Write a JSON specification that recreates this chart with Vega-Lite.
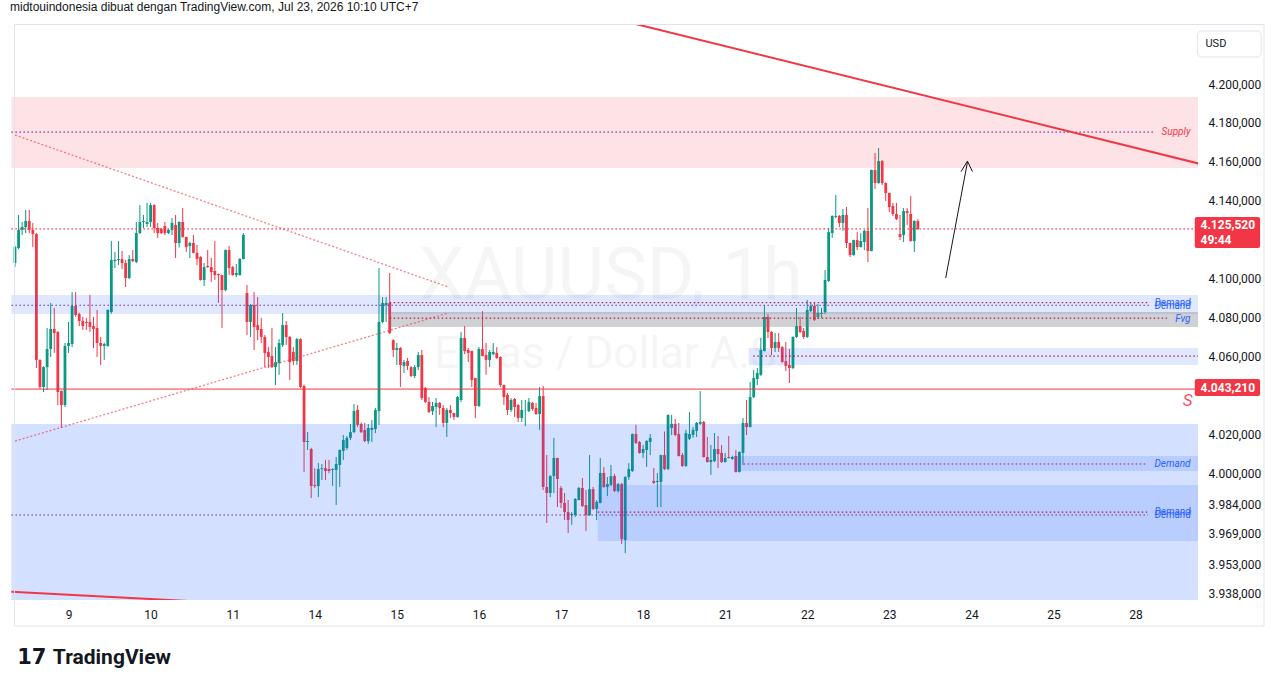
{
"$schema":"https://vega.github.io/schema/vega-lite/v6.json",
"width":1188,"height":575,
"autosize":{"type":"none"},
"padding":{"left":10,"top":25,"right":83,"bottom":88},
"background":"#ffffff",
"config":{"view":{"stroke":null},"font":"Roboto","locale":{"number":{"decimal":",","thousands":".","grouping":[3],"currency":["",""]}}},
"title":{"text":"midtouindonesia dibuat dengan TradingView.com, Jul 23, 2026 10:10 UTC+7","anchor":"start","frame":"group","fontSize":12,"fontWeight":"normal","font":"Liberation Sans","color":"#131722","offset":-2,"baseline":"bottom"},
"datasets":{
"candles":[
{"i":1,"o":4108.0,"h":4117.0,"l":4106.0,"c":4116.2},
{"i":2,"o":4115.7,"h":4132.7,"l":4115.0,"c":4125.0},
{"i":3,"o":4125.0,"h":4129.1,"l":4122.4,"c":4126.5},
{"i":4,"o":4126.5,"h":4135.3,"l":4123.4,"c":4129.6},
{"i":5,"o":4129.6,"h":4135.3,"l":4123.4,"c":4125.0},
{"i":6,"o":4125.0,"h":4128.6,"l":4116.2,"c":4122.9},
{"i":7,"o":4122.9,"h":4123.5,"l":4054.0,"c":4058.2},
{"i":8,"o":4058.2,"h":4058.5,"l":4043.3,"c":4044.3},
{"i":9,"o":4044.3,"h":4055.0,"l":4041.7,"c":4054.5},
{"i":10,"o":4054.5,"h":4074.6,"l":4042.7,"c":4063.8},
{"i":11,"o":4063.8,"h":4087.5,"l":4059.7,"c":4074.1},
{"i":12,"o":4074.1,"h":4084.9,"l":4061.8,"c":4072.0},
{"i":13,"o":4072.6,"h":4073.0,"l":4035.0,"c":4041.7},
{"i":14,"o":4042.2,"h":4042.5,"l":4023.2,"c":4035.0},
{"i":15,"o":4035.0,"h":4066.9,"l":4034.0,"c":4065.4},
{"i":16,"o":4065.4,"h":4077.7,"l":4061.8,"c":4066.9},
{"i":17,"o":4066.4,"h":4093.1,"l":4064.8,"c":4085.9},
{"i":18,"o":4085.9,"h":4093.1,"l":4080.3,"c":4081.3},
{"i":19,"o":4081.8,"h":4082.5,"l":4075.6,"c":4078.2},
{"i":20,"o":4078.2,"h":4080.3,"l":4073.6,"c":4075.6},
{"i":21,"o":4077.7,"h":4079.8,"l":4073.6,"c":4077.2},
{"i":22,"o":4077.7,"h":4091.6,"l":4072.6,"c":4075.1},
{"i":23,"o":4075.6,"h":4080.3,"l":4064.3,"c":4074.1},
{"i":24,"o":4074.6,"h":4083.9,"l":4059.7,"c":4066.9},
{"i":25,"o":4066.9,"h":4070.0,"l":4055.6,"c":4065.4},
{"i":26,"o":4065.4,"h":4067.0,"l":4058.2,"c":4066.4},
{"i":27,"o":4065.4,"h":4084.2,"l":4065.0,"c":4083.9},
{"i":28,"o":4082.8,"h":4119.3,"l":4082.0,"c":4109.6},
{"i":29,"o":4109.0,"h":4113.7,"l":4105.4,"c":4109.6},
{"i":30,"o":4109.6,"h":4119.3,"l":4107.0,"c":4110.1},
{"i":31,"o":4110.1,"h":4114.2,"l":4104.9,"c":4108.0},
{"i":32,"o":4108.0,"h":4109.6,"l":4095.7,"c":4100.3},
{"i":33,"o":4100.3,"h":4112.1,"l":4099.8,"c":4110.1},
{"i":34,"o":4110.1,"h":4114.7,"l":4108.5,"c":4109.0},
{"i":35,"o":4108.5,"h":4129.1,"l":4108.0,"c":4123.4},
{"i":36,"o":4123.4,"h":4137.8,"l":4122.9,"c":4129.1},
{"i":37,"o":4129.1,"h":4132.7,"l":4126.0,"c":4129.6},
{"i":38,"o":4128.1,"h":4138.9,"l":4126.5,"c":4129.1},
{"i":39,"o":4129.1,"h":4138.9,"l":4126.5,"c":4137.8},
{"i":40,"o":4137.8,"h":4138.2,"l":4123.4,"c":4126.0},
{"i":41,"o":4126.0,"h":4128.6,"l":4120.9,"c":4123.4},
{"i":42,"o":4125.5,"h":4126.0,"l":4123.0,"c":4123.4},
{"i":43,"o":4127.0,"h":4129.1,"l":4122.4,"c":4123.4},
{"i":44,"o":4123.4,"h":4125.5,"l":4122.9,"c":4125.0},
{"i":45,"o":4125.0,"h":4131.1,"l":4122.4,"c":4128.6},
{"i":46,"o":4127.6,"h":4132.7,"l":4110.6,"c":4118.3},
{"i":47,"o":4118.3,"h":4129.5,"l":4116.0,"c":4129.1},
{"i":48,"o":4129.1,"h":4136.3,"l":4121.0,"c":4121.4},
{"i":49,"o":4121.4,"h":4121.5,"l":4113.7,"c":4116.2},
{"i":50,"o":4116.8,"h":4119.0,"l":4110.6,"c":4118.3},
{"i":51,"o":4118.3,"h":4122.4,"l":4113.0,"c":4113.2},
{"i":52,"o":4113.2,"h":4117.3,"l":4107.0,"c":4110.1},
{"i":53,"o":4111.1,"h":4111.5,"l":4099.0,"c":4099.3},
{"i":54,"o":4099.3,"h":4108.0,"l":4096.2,"c":4105.9},
{"i":55,"o":4106.5,"h":4114.7,"l":4105.5,"c":4105.9},
{"i":56,"o":4105.9,"h":4110.6,"l":4098.3,"c":4103.4},
{"i":57,"o":4103.9,"h":4119.3,"l":4099.3,"c":4101.8},
{"i":58,"o":4102.4,"h":4102.5,"l":4087.5,"c":4101.8},
{"i":59,"o":4101.8,"h":4102.0,"l":4074.6,"c":4094.1},
{"i":60,"o":4094.1,"h":4115.0,"l":4093.5,"c":4114.7},
{"i":61,"o":4114.7,"h":4116.8,"l":4101.8,"c":4105.4},
{"i":62,"o":4105.9,"h":4106.5,"l":4101.5,"c":4101.8},
{"i":63,"o":4101.8,"h":4107.5,"l":4100.8,"c":4102.9},
{"i":64,"o":4101.8,"h":4110.5,"l":4101.5,"c":4110.1},
{"i":65,"o":4110.1,"h":4123.4,"l":4109.8,"c":4122.4},
{"i":66,"o":4092.6,"h":4096.7,"l":4071.0,"c":4077.7},
{"i":67,"o":4077.7,"h":4087.0,"l":4070.0,"c":4086.4},
{"i":68,"o":4086.4,"h":4093.1,"l":4063.3,"c":4075.1},
{"i":69,"o":4076.1,"h":4090.5,"l":4068.4,"c":4073.6},
{"i":70,"o":4074.1,"h":4079.8,"l":4066.9,"c":4070.0},
{"i":71,"o":4070.0,"h":4071.0,"l":4054.5,"c":4061.8},
{"i":72,"o":4062.3,"h":4064.8,"l":4054.0,"c":4059.7},
{"i":73,"o":4060.2,"h":4074.6,"l":4054.0,"c":4054.5},
{"i":74,"o":4054.5,"h":4064.8,"l":4045.3,"c":4057.1},
{"i":75,"o":4056.6,"h":4068.9,"l":4050.5,"c":4066.9},
{"i":76,"o":4065.9,"h":4082.3,"l":4064.8,"c":4076.1},
{"i":77,"o":4076.1,"h":4078.2,"l":4065.9,"c":4070.0},
{"i":78,"o":4070.0,"h":4070.5,"l":4047.9,"c":4057.1},
{"i":79,"o":4062.3,"h":4064.8,"l":4055.6,"c":4057.6},
{"i":80,"o":4057.6,"h":4069.5,"l":4055.6,"c":4068.9},
{"i":81,"o":4068.9,"h":4069.3,"l":4043.8,"c":4044.3},
{"i":82,"o":4044.8,"h":4045.5,"l":4000.6,"c":4016.0},
{"i":83,"o":4016.0,"h":4021.1,"l":4011.9,"c":4016.5},
{"i":84,"o":4012.4,"h":4013.0,"l":3987.2,"c":3993.4},
{"i":85,"o":3993.9,"h":4002.6,"l":3992.4,"c":3993.4},
{"i":86,"o":3993.4,"h":4005.2,"l":3987.7,"c":4002.1},
{"i":87,"o":4002.1,"h":4004.7,"l":3996.5,"c":4002.6},
{"i":88,"o":4002.6,"h":4006.8,"l":3996.5,"c":4001.1},
{"i":89,"o":4002.1,"h":4006.8,"l":4000.0,"c":4001.1},
{"i":90,"o":4001.6,"h":4002.5,"l":3993.4,"c":4002.1},
{"i":91,"o":4001.6,"h":4008.3,"l":3983.6,"c":4004.7},
{"i":92,"o":4004.2,"h":4012.2,"l":3992.9,"c":4011.9},
{"i":93,"o":4011.4,"h":4019.6,"l":4006.8,"c":4017.0},
{"i":94,"o":4012.9,"h":4019.1,"l":4011.9,"c":4018.1},
{"i":95,"o":4018.1,"h":4025.3,"l":4017.0,"c":4021.1},
{"i":96,"o":4021.1,"h":4035.5,"l":4020.6,"c":4031.9},
{"i":97,"o":4032.5,"h":4035.0,"l":4023.7,"c":4024.8},
{"i":98,"o":4025.3,"h":4026.0,"l":4020.6,"c":4021.1},
{"i":99,"o":4022.2,"h":4025.8,"l":4016.0,"c":4016.5},
{"i":100,"o":4016.5,"h":4025.3,"l":4015.0,"c":4023.2},
{"i":101,"o":4022.2,"h":4027.3,"l":4016.0,"c":4023.2},
{"i":102,"o":4022.7,"h":4033.5,"l":4020.6,"c":4032.5},
{"i":103,"o":4031.9,"h":4105.4,"l":4024.8,"c":4077.7},
{"i":104,"o":4077.7,"h":4090.5,"l":4077.0,"c":4087.5},
{"i":105,"o":4086.4,"h":4090.5,"l":4077.7,"c":4087.5},
{"i":106,"o":4087.5,"h":4102.9,"l":4071.5,"c":4072.0},
{"i":107,"o":4068.4,"h":4068.8,"l":4059.7,"c":4063.3},
{"i":108,"o":4063.3,"h":4066.9,"l":4055.6,"c":4064.3},
{"i":109,"o":4064.3,"h":4064.8,"l":4044.3,"c":4055.6},
{"i":110,"o":4055.1,"h":4058.2,"l":4051.5,"c":4057.1},
{"i":111,"o":4057.6,"h":4059.2,"l":4053.0,"c":4055.1},
{"i":112,"o":4054.5,"h":4055.0,"l":4049.4,"c":4049.9},
{"i":113,"o":4049.9,"h":4055.6,"l":4048.9,"c":4054.5},
{"i":114,"o":4054.5,"h":4062.3,"l":4053.0,"c":4060.7},
{"i":115,"o":4060.7,"h":4063.3,"l":4037.6,"c":4038.6},
{"i":116,"o":4043.8,"h":4044.3,"l":4036.1,"c":4036.6},
{"i":117,"o":4036.6,"h":4039.1,"l":4030.9,"c":4031.4},
{"i":118,"o":4031.9,"h":4036.6,"l":4029.9,"c":4034.5},
{"i":119,"o":4034.0,"h":4038.6,"l":4023.7,"c":4036.1},
{"i":120,"o":4036.1,"h":4036.6,"l":4029.9,"c":4033.5},
{"i":121,"o":4033.5,"h":4035.0,"l":4023.7,"c":4025.8},
{"i":122,"o":4025.8,"h":4033.5,"l":4018.6,"c":4032.5},
{"i":123,"o":4032.5,"h":4035.0,"l":4028.3,"c":4030.9},
{"i":124,"o":4030.9,"h":4031.0,"l":4027.3,"c":4028.9},
{"i":125,"o":4028.9,"h":4039.6,"l":4028.5,"c":4039.1},
{"i":126,"o":4037.6,"h":4072.6,"l":4036.6,"c":4069.5},
{"i":127,"o":4069.5,"h":4075.6,"l":4061.2,"c":4062.8},
{"i":128,"o":4063.3,"h":4064.3,"l":4057.1,"c":4061.8},
{"i":129,"o":4062.8,"h":4063.0,"l":4044.3,"c":4047.9},
{"i":130,"o":4048.9,"h":4049.0,"l":4028.3,"c":4034.5},
{"i":131,"o":4034.5,"h":4064.8,"l":4034.0,"c":4063.8},
{"i":132,"o":4063.8,"h":4083.3,"l":4060.0,"c":4060.2},
{"i":133,"o":4060.7,"h":4066.9,"l":4050.5,"c":4058.2},
{"i":134,"o":4058.2,"h":4063.3,"l":4054.5,"c":4062.3},
{"i":135,"o":4061.2,"h":4066.9,"l":4060.7,"c":4062.3},
{"i":136,"o":4061.8,"h":4064.8,"l":4058.7,"c":4059.2},
{"i":137,"o":4059.7,"h":4060.0,"l":4044.3,"c":4045.3},
{"i":138,"o":4045.3,"h":4045.5,"l":4035.0,"c":4039.1},
{"i":139,"o":4040.2,"h":4041.2,"l":4029.9,"c":4032.5},
{"i":140,"o":4032.5,"h":4038.6,"l":4031.4,"c":4037.6},
{"i":141,"o":4038.1,"h":4038.6,"l":4028.9,"c":4034.0},
{"i":142,"o":4035.0,"h":4035.5,"l":4026.3,"c":4028.3},
{"i":143,"o":4028.3,"h":4037.6,"l":4026.3,"c":4032.5},
{"i":144,"o":4031.9,"h":4037.6,"l":4024.2,"c":4032.0},
{"i":145,"o":4031.9,"h":4038.6,"l":4031.4,"c":4036.6},
{"i":146,"o":4036.1,"h":4036.5,"l":4032.0,"c":4033.0},
{"i":147,"o":4033.5,"h":4036.1,"l":4029.9,"c":4030.4},
{"i":148,"o":4030.4,"h":4044.3,"l":4022.2,"c":4039.6},
{"i":149,"o":4039.6,"h":4044.8,"l":3991.3,"c":3992.9},
{"i":150,"o":3992.9,"h":4009.3,"l":3974.4,"c":3989.8},
{"i":151,"o":3989.8,"h":3999.0,"l":3987.7,"c":3998.5},
{"i":152,"o":3998.5,"h":4018.1,"l":3989.8,"c":4007.8},
{"i":153,"o":4007.8,"h":4008.0,"l":3982.6,"c":3997.0},
{"i":154,"o":3992.4,"h":3993.4,"l":3982.1,"c":3984.7},
{"i":155,"o":3984.7,"h":3989.8,"l":3975.9,"c":3980.0},
{"i":156,"o":3980.0,"h":3986.2,"l":3969.2,"c":3975.9},
{"i":157,"o":3978.5,"h":3980.0,"l":3973.4,"c":3979.0},
{"i":158,"o":3978.5,"h":3987.2,"l":3977.5,"c":3986.7},
{"i":159,"o":3986.2,"h":3992.9,"l":3986.0,"c":3992.4},
{"i":160,"o":3992.4,"h":3997.5,"l":3982.6,"c":3983.1},
{"i":161,"o":3983.6,"h":3991.3,"l":3970.3,"c":3978.5},
{"i":162,"o":3978.5,"h":4009.3,"l":3978.0,"c":3991.8},
{"i":163,"o":3991.8,"h":3992.9,"l":3981.0,"c":3981.6},
{"i":164,"o":3981.6,"h":3986.2,"l":3975.9,"c":3985.2},
{"i":165,"o":3984.7,"h":4007.8,"l":3984.5,"c":4000.1},
{"i":166,"o":4000.1,"h":4003.2,"l":3992.5,"c":3992.9},
{"i":167,"o":3992.9,"h":3998.0,"l":3988.2,"c":3994.4},
{"i":168,"o":3993.9,"h":4004.2,"l":3993.4,"c":3998.5},
{"i":169,"o":3998.5,"h":3999.6,"l":3990.3,"c":3990.8},
{"i":170,"o":3990.8,"h":3995.0,"l":3990.0,"c":3994.4},
{"i":171,"o":3994.4,"h":3995.0,"l":3963.6,"c":3966.1},
{"i":172,"o":3965.6,"h":3998.5,"l":3958.9,"c":3998.0},
{"i":173,"o":3998.0,"h":4005.2,"l":3996.5,"c":4002.1},
{"i":174,"o":4001.1,"h":4020.4,"l":4000.6,"c":4020.1},
{"i":175,"o":4020.1,"h":4024.8,"l":4015.0,"c":4015.5},
{"i":176,"o":4016.0,"h":4016.5,"l":4010.0,"c":4010.4},
{"i":177,"o":4010.4,"h":4014.5,"l":4007.8,"c":4012.4},
{"i":178,"o":4011.9,"h":4017.0,"l":4003.2,"c":4016.5},
{"i":179,"o":4016.0,"h":4020.1,"l":4009.3,"c":4018.1},
{"i":180,"o":3996.0,"h":4002.6,"l":3994.4,"c":3995.0},
{"i":181,"o":3995.5,"h":4000.1,"l":3982.6,"c":3996.0},
{"i":182,"o":3995.5,"h":4009.5,"l":3982.6,"c":4009.3},
{"i":183,"o":4009.3,"h":4021.4,"l":4001.5,"c":4002.1},
{"i":184,"o":4002.1,"h":4030.2,"l":4001.5,"c":4029.9},
{"i":185,"o":4023.2,"h":4029.9,"l":4019.6,"c":4025.3},
{"i":186,"o":4025.3,"h":4027.8,"l":4019.0,"c":4019.6},
{"i":187,"o":4020.1,"h":4025.8,"l":4008.5,"c":4008.8},
{"i":188,"o":4009.3,"h":4010.4,"l":4003.2,"c":4003.7},
{"i":189,"o":4003.7,"h":4022.2,"l":4003.2,"c":4020.6},
{"i":190,"o":4017.6,"h":4031.4,"l":4017.0,"c":4020.1},
{"i":191,"o":4019.6,"h":4023.7,"l":4018.1,"c":4022.2},
{"i":192,"o":4021.7,"h":4026.3,"l":4018.6,"c":4025.8},
{"i":193,"o":4025.3,"h":4042.2,"l":4024.8,"c":4026.3},
{"i":194,"o":4026.3,"h":4026.8,"l":4008.0,"c":4008.3},
{"i":195,"o":4008.3,"h":4018.6,"l":4005.5,"c":4005.7},
{"i":196,"o":4005.7,"h":4014.5,"l":3999.1,"c":4006.8},
{"i":197,"o":4006.2,"h":4020.6,"l":4005.7,"c":4012.4},
{"i":198,"o":4012.4,"h":4019.1,"l":4002.6,"c":4009.8},
{"i":199,"o":4010.4,"h":4014.5,"l":4005.2,"c":4005.7},
{"i":200,"o":4005.7,"h":4010.4,"l":4005.5,"c":4007.8},
{"i":201,"o":4008.3,"h":4019.1,"l":4007.5,"c":4007.8},
{"i":202,"o":4007.3,"h":4009.0,"l":4006.8,"c":4008.3},
{"i":203,"o":4008.8,"h":4011.9,"l":4000.3,"c":4000.6},
{"i":204,"o":4000.6,"h":4011.2,"l":4000.3,"c":4010.9},
{"i":205,"o":4010.4,"h":4028.3,"l":4004.2,"c":4025.8},
{"i":206,"o":4025.8,"h":4037.6,"l":4019.6,"c":4023.7},
{"i":207,"o":4023.7,"h":4046.9,"l":4023.5,"c":4039.1},
{"i":208,"o":4039.1,"h":4053.0,"l":4038.6,"c":4048.9},
{"i":209,"o":4048.4,"h":4054.0,"l":4045.3,"c":4051.5},
{"i":210,"o":4050.5,"h":4069.5,"l":4050.0,"c":4063.3},
{"i":211,"o":4062.8,"h":4086.4,"l":4062.5,"c":4080.3},
{"i":212,"o":4080.3,"h":4081.8,"l":4069.5,"c":4072.6},
{"i":213,"o":4072.6,"h":4073.0,"l":4060.7,"c":4064.3},
{"i":214,"o":4064.3,"h":4072.0,"l":4062.3,"c":4067.4},
{"i":215,"o":4067.4,"h":4072.0,"l":4062.3,"c":4064.3},
{"i":216,"o":4064.8,"h":4065.2,"l":4056.8,"c":4057.1},
{"i":217,"o":4057.6,"h":4067.4,"l":4052.5,"c":4055.1},
{"i":218,"o":4055.6,"h":4063.8,"l":4046.3,"c":4054.0},
{"i":219,"o":4054.0,"h":4070.3,"l":4053.5,"c":4070.0},
{"i":220,"o":4070.0,"h":4084.9,"l":4069.5,"c":4075.6},
{"i":221,"o":4075.6,"h":4080.3,"l":4072.0,"c":4072.6},
{"i":222,"o":4073.1,"h":4074.6,"l":4069.0,"c":4070.0},
{"i":223,"o":4070.0,"h":4089.0,"l":4069.5,"c":4083.9},
{"i":224,"o":4083.3,"h":4087.5,"l":4082.8,"c":4085.9},
{"i":225,"o":4085.9,"h":4087.5,"l":4078.2,"c":4078.7},
{"i":226,"o":4080.3,"h":4086.9,"l":4079.2,"c":4082.3},
{"i":227,"o":4081.8,"h":4084.9,"l":4079.8,"c":4082.3},
{"i":228,"o":4082.8,"h":4104.4,"l":4081.8,"c":4099.3},
{"i":229,"o":4098.8,"h":4126.0,"l":4098.3,"c":4123.9},
{"i":230,"o":4123.4,"h":4132.5,"l":4120.9,"c":4132.2},
{"i":231,"o":4131.7,"h":4143.0,"l":4131.0,"c":4132.2},
{"i":232,"o":4132.2,"h":4132.7,"l":4126.5,"c":4128.6},
{"i":233,"o":4128.6,"h":4135.8,"l":4124.5,"c":4132.7},
{"i":234,"o":4132.7,"h":4136.8,"l":4115.7,"c":4118.3},
{"i":235,"o":4118.3,"h":4118.5,"l":4111.1,"c":4112.1},
{"i":236,"o":4112.1,"h":4120.0,"l":4111.8,"c":4119.8},
{"i":237,"o":4119.8,"h":4123.9,"l":4114.7,"c":4116.2},
{"i":238,"o":4116.2,"h":4123.4,"l":4116.0,"c":4119.3},
{"i":239,"o":4118.8,"h":4125.0,"l":4114.7,"c":4124.5},
{"i":240,"o":4124.5,"h":4136.3,"l":4108.5,"c":4114.2},
{"i":241,"o":4114.2,"h":4156.0,"l":4114.0,"c":4155.8},
{"i":242,"o":4155.8,"h":4164.6,"l":4146.1,"c":4149.1},
{"i":243,"o":4149.1,"h":4167.1,"l":4148.8,"c":4160.4},
{"i":244,"o":4160.4,"h":4160.9,"l":4148.1,"c":4149.1},
{"i":245,"o":4149.1,"h":4149.5,"l":4139.9,"c":4144.0},
{"i":246,"o":4144.0,"h":4144.2,"l":4134.2,"c":4136.8},
{"i":247,"o":4137.3,"h":4138.9,"l":4132.2,"c":4133.2},
{"i":248,"o":4133.2,"h":4138.9,"l":4130.1,"c":4130.6},
{"i":249,"o":4122.9,"h":4132.7,"l":4119.8,"c":4121.4},
{"i":250,"o":4122.4,"h":4136.3,"l":4118.8,"c":4134.7},
{"i":251,"o":4134.7,"h":4136.3,"l":4127.6,"c":4133.7},
{"i":252,"o":4133.2,"h":4142.5,"l":4119.0,"c":4119.3},
{"i":253,"o":4119.3,"h":4130.0,"l":4113.7,"c":4129.6},
{"i":254,"o":4129.6,"h":4130.6,"l":4125.0,"c":4125.52}
],
"zones":[
{"kind":"supply","x0":0,"x1":340,"top":4193.3,"bot":4156.8},
{"kind":"demand","x0":0,"x1":340,"top":4025.3,"bot":3900},
{"kind":"demandLight","x0":0,"x1":340,"top":4091.6,"bot":4081.8},
{"kind":"fvg","x0":106,"x1":340,"top":4082.8,"bot":4075.1},
{"kind":"demandLight","x0":206.6,"x1":340,"top":4064.3,"bot":4055.6},
{"kind":"demandInner","x0":202.4,"x1":340,"top":4008.8,"bot":4001.1},
{"kind":"demandInner","x0":164.3,"x1":340,"top":3993.9,"bot":3965.1}
],
"levels":[
{"kind":"supply","x0":0,"x1":320.4,"p":4175.3},
{"kind":"price","x0":0,"x1":335,"p":4125.52},
{"kind":"dm","x0":106,"x1":319,"p":4087.6},
{"kind":"dp","x0":0,"x1":319,"p":4086.3},
{"kind":"dm","x0":106,"x1":323.8,"p":4079.7},
{"kind":"dm","x0":207.9,"x1":335,"p":4060.2},
{"kind":"dm","x0":205.2,"x1":317.7,"p":4004.7},
{"kind":"dm","x0":164.3,"x1":318.5,"p":3980.0},
{"kind":"dp","x0":0,"x1":318.5,"p":3978.5}
],
"lines":[
{"id":"tri1","k":0,"i":1.0,"p":4173.8},{"id":"tri1","k":1,"i":122.4,"p":4095.7},
{"id":"tri2","k":0,"i":1.0,"p":4016.5},{"id":"tri2","k":1,"i":122.4,"p":4082.3},
{"id":"trend1","k":0,"i":170,"p":4233.1},{"id":"trend1","k":1,"i":335,"p":4158.1},
{"id":"trend2","k":0,"i":0,"p":3939.0},{"id":"trend2","k":1,"i":60,"p":3933.3},
{"id":"arrow","k":0,"i":261.8,"p":4100.3},{"id":"arrow","k":1,"i":267.9,"p":4159.9},
{"id":"head","k":0,"i":266.1,"p":4155.0},{"id":"head","k":1,"i":267.9,"p":4160.4},{"id":"head","k":2,"i":269.3,"p":4155.0}
],
"labels":[
{"text":"Supply","kind":"supply","i":330.4,"p":4175.3},
{"text":"Demand","kind":"demand","i":330.4,"p":4087.3},
{"text":"Demand","kind":"demand","i":330.5,"p":4085.9},
{"text":"Fvg","kind":"demand","i":330.4,"p":4079.0},
{"text":"Demand","kind":"demand","i":330.4,"p":4004.7},
{"text":"Demand","kind":"demand","i":330.4,"p":3980.0},
{"text":"Demand","kind":"demand","i":330.5,"p":3978.6}
]
},
"resolve":{"scale":{"color":"independent","fill":"independent","stroke":"independent"},"axis":{"x":"independent","y":"independent"}},
"layer":[
{"data":{"values":[{}]},"mark":{"type":"text","font":"Roboto","fontSize":72,"color":"#131722","opacity":0.035,"align":"center","baseline":"middle","clip":false},
 "encoding":{"x":{"datum":168,"type":"quantitative","scale":{"domain":[1.0,331.1],"nice":false,"zero":false},"axis":null},"y":{"datum":4101.0,"type":"quantitative","scale":{"domain":[3934.8,4230.35],"nice":false,"zero":false},"axis":null},"text":{"value":"XAUUSD, 1h"}}},
{"data":{"values":[{}]},"mark":{"type":"text","font":"Roboto","fontSize":44,"color":"#131722","opacity":0.035,"align":"center","baseline":"middle","clip":false},
 "encoding":{"x":{"datum":168,"type":"quantitative","scale":{"domain":[1.0,331.1],"nice":false,"zero":false},"axis":null},"y":{"datum":4060.7,"type":"quantitative","scale":{"domain":[3934.8,4230.35],"nice":false,"zero":false},"axis":null},"text":{"value":"Emas / Dollar A.S."}}},
{"data":{"name":"candles"},"mark":{"type":"rule","strokeWidth":1,"clip":true},
 "encoding":{
  "x":{"field":"i","type":"quantitative","scale":{"domain":[1.0,331.1],"nice":false,"zero":false},
   "axis":{"orient":"bottom","title":null,"values":[16,39,62,85,108,131,154,177,200,223,246,269,292,315],"labelExpr":"['9','10','11','14','15','16','17','18','21','22','23','24','25','28'][round((datum.value-16)/23)]","ticks":false,"domain":false,"grid":false,"labelPadding":9,"labelFontSize":12,"labelColor":"#131722","labelFont":"Roboto"}},
  "y":{"field":"l","type":"quantitative","scale":{"domain":[3934.8,4230.35],"nice":false,"zero":false},
   "axis":{"orient":"right","title":null,"values":[4200,4180,4160,4140,4100,4080,4060,4020,4000,3984,3969,3953,3938],"format":",.3f","ticks":false,"domain":false,"grid":false,"labelPadding":10,"labelFontSize":12,"labelColor":"#131722","labelFont":"Roboto"}},
  "y2":{"field":"h"},
  "color":{"condition":{"test":"datum.c >= datum.o","value":"#089981"},"value":"#f23645"}}},
{"data":{"name":"candles"},"mark":{"type":"bar","width":2.8,"clip":true},
 "encoding":{
  "x":{"field":"i","type":"quantitative","scale":{"domain":[1.0,331.1],"nice":false,"zero":false},"axis":null},
  "y":{"field":"o","type":"quantitative","scale":{"domain":[3934.8,4230.35],"nice":false,"zero":false},"axis":null},
  "y2":{"field":"c"},
  "color":{"condition":{"test":"datum.c >= datum.o","value":"#089981"},"value":"#f23645"}}},
{"data":{"name":"zones"},"mark":{"type":"rect","clip":true,"opacity":1},
 "encoding":{
  "x":{"field":"x0","type":"quantitative","scale":{"domain":[1.0,331.1],"nice":false,"zero":false},"axis":null},"x2":{"field":"x1"},
  "y":{"field":"top","type":"quantitative","scale":{"domain":[3934.8,4230.35],"nice":false,"zero":false},"axis":null},"y2":{"field":"bot"},
  "fill":{"field":"kind","type":"nominal","legend":null,"scale":{"domain":["supply","demand","demandLight","fvg","demandInner"],"range":["rgba(242,54,69,0.14)","rgba(41,98,255,0.2)","rgba(41,98,255,0.15)","rgba(120,123,134,0.35)","rgba(41,98,255,0.15)"]}}}},
{"data":{"name":"levels"},"mark":{"type":"rule","strokeDash":[1.5,2.5],"strokeWidth":1.2,"clip":true},
 "encoding":{
  "x":{"field":"x0","type":"quantitative","scale":{"domain":[1.0,331.1],"nice":false,"zero":false},"axis":null},"x2":{"field":"x1"},
  "y":{"field":"p","type":"quantitative","scale":{"domain":[3934.8,4230.35],"nice":false,"zero":false},"axis":null},
  "stroke":{"field":"kind","type":"nominal","legend":null,"scale":{"domain":["supply","price","dm","dp"],"range":["#9c27b0","#f23645","#b0195c","#6a2fa0"]}}}},
{"data":{"values":[{}]},"mark":{"type":"rule","color":"#f23645","strokeWidth":1,"clip":true},
 "encoding":{"x":{"datum":0,"type":"quantitative","scale":{"domain":[1.0,331.1],"nice":false,"zero":false},"axis":null},"x2":{"datum":335},"y":{"datum":4043.21,"type":"quantitative","scale":{"domain":[3934.8,4230.35],"nice":false,"zero":false},"axis":null}}},
{"data":{"name":"lines"},"transform":[{"filter":"datum.id == 'tri1' || datum.id == 'tri2'"}],"mark":{"type":"line","strokeDash":[2,2],"strokeWidth":1.3,"color":"#f23645","opacity":0.65,"clip":true},
 "encoding":{"x":{"field":"i","type":"quantitative","scale":{"domain":[1.0,331.1],"nice":false,"zero":false},"axis":null},"y":{"field":"p","type":"quantitative","scale":{"domain":[3934.8,4230.35],"nice":false,"zero":false},"axis":null},"detail":{"field":"id"},"order":{"field":"k"}}},
{"data":{"name":"lines"},"transform":[{"filter":"datum.id == 'trend1' || datum.id == 'trend2'"}],"mark":{"type":"line","strokeWidth":2,"color":"#f23645","clip":true},
 "encoding":{"x":{"field":"i","type":"quantitative","scale":{"domain":[1.0,331.1],"nice":false,"zero":false},"axis":null},"y":{"field":"p","type":"quantitative","scale":{"domain":[3934.8,4230.35],"nice":false,"zero":false},"axis":null},"detail":{"field":"id"},"order":{"field":"k"}}},
{"data":{"name":"lines"},"transform":[{"filter":"datum.id == 'arrow' || datum.id == 'head'"}],"mark":{"type":"line","strokeWidth":1,"color":"#131722","clip":true},
 "encoding":{"x":{"field":"i","type":"quantitative","scale":{"domain":[1.0,331.1],"nice":false,"zero":false},"axis":null},"y":{"field":"p","type":"quantitative","scale":{"domain":[3934.8,4230.35],"nice":false,"zero":false},"axis":null},"detail":{"field":"id"},"order":{"field":"k"}}},
{"data":{"name":"labels"},"mark":{"type":"text","align":"right","baseline":"middle","fontSize":10,"fontStyle":"italic","font":"Roboto","clip":false},
 "encoding":{"x":{"field":"i","type":"quantitative","scale":{"domain":[1.0,331.1],"nice":false,"zero":false},"axis":null},"y":{"field":"p","type":"quantitative","scale":{"domain":[3934.8,4230.35],"nice":false,"zero":false},"axis":null},"text":{"field":"text"},
  "color":{"field":"kind","type":"nominal","legend":null,"scale":{"domain":["supply","demand"],"range":["#f23645","#2962ff"]}}}},
{"data":{"values":[{}]},"mark":{"type":"text","align":"center","baseline":"middle","fontSize":17,"fontStyle":"italic","font":"Roboto","color":"#f7525f","clip":false},
 "encoding":{"x":{"datum":329.6,"type":"quantitative","scale":{"domain":[1.0,331.1],"nice":false,"zero":false},"axis":null},"y":{"datum":4037.1,"type":"quantitative","scale":{"domain":[3934.8,4230.35],"nice":false,"zero":false},"axis":null},"text":{"value":"S"}}},
{"data":{"values":[{}]},"mark":{"type":"rect","fill":"#f23645","cornerRadius":2,"clip":false},
 "encoding":{"x":{"datum":331.6,"type":"quantitative","scale":{"domain":[1.0,331.1],"nice":false,"zero":false},"axis":null},"x2":{"datum":349.9},"y":{"datum":4131.7,"type":"quantitative","scale":{"domain":[3934.8,4230.35],"nice":false,"zero":false},"axis":null},"y2":{"datum":4115.7}}},
{"data":{"values":[{}]},"mark":{"type":"rect","fill":"#f23645","cornerRadius":2,"clip":false},
 "encoding":{"x":{"datum":331.6,"type":"quantitative","scale":{"domain":[1.0,331.1],"nice":false,"zero":false},"axis":null},"x2":{"datum":349.9},"y":{"datum":4048.4,"type":"quantitative","scale":{"domain":[3934.8,4230.35],"nice":false,"zero":false},"axis":null},"y2":{"datum":4039.6}}},
{"data":{"values":[{}]},"mark":{"type":"text","align":"left","baseline":"middle","fontSize":12,"fontWeight":"bold","font":"Roboto","color":"#ffffff","clip":false},
 "encoding":{"x":{"datum":333.2,"type":"quantitative","scale":{"domain":[1.0,331.1],"nice":false,"zero":false},"axis":null},"y":{"datum":4127.7,"type":"quantitative","scale":{"domain":[3934.8,4230.35],"nice":false,"zero":false},"axis":null},"text":{"value":"4.125,520"}}},
{"data":{"values":[{}]},"mark":{"type":"text","align":"left","baseline":"middle","fontSize":12,"fontWeight":"bold","font":"Roboto","color":"#ffffff","clip":false},
 "encoding":{"x":{"datum":333.2,"type":"quantitative","scale":{"domain":[1.0,331.1],"nice":false,"zero":false},"axis":null},"y":{"datum":4119.8,"type":"quantitative","scale":{"domain":[3934.8,4230.35],"nice":false,"zero":false},"axis":null},"text":{"value":"49:44"}}},
{"data":{"values":[{}]},"mark":{"type":"text","align":"left","baseline":"middle","fontSize":12,"fontWeight":"bold","font":"Roboto","color":"#ffffff","clip":false},
 "encoding":{"x":{"datum":333.2,"type":"quantitative","scale":{"domain":[1.0,331.1],"nice":false,"zero":false},"axis":null},"y":{"datum":4044.0,"type":"quantitative","scale":{"domain":[3934.8,4230.35],"nice":false,"zero":false},"axis":null},"text":{"value":"4.043,210"}}},
{"data":{"values":[{}]},"mark":{"type":"rect","fill":"#ffffff","stroke":"#e0e3eb","strokeWidth":1,"cornerRadius":4,"clip":false},
 "encoding":{"x":{"datum":332.4,"type":"quantitative","scale":{"domain":[1.0,331.1],"nice":false,"zero":false},"axis":null},"x2":{"datum":350.2},"y":{"datum":4227.3,"type":"quantitative","scale":{"domain":[3934.8,4230.35],"nice":false,"zero":false},"axis":null},"y2":{"datum":4213.9}}},
{"data":{"values":[{}]},"mark":{"type":"text","align":"left","baseline":"middle","fontSize":11,"font":"Roboto","color":"#131722","clip":false},
 "encoding":{"x":{"datum":334.6,"type":"quantitative","scale":{"domain":[1.0,331.1],"nice":false,"zero":false},"axis":null},"y":{"datum":4220.6,"type":"quantitative","scale":{"domain":[3934.8,4230.35],"nice":false,"zero":false},"axis":null},"text":{"value":"USD"}}},
{"data":{"values":[{}]},"mark":{"type":"rect","filled":false,"stroke":"#e0e3eb","strokeWidth":1,"clip":false},
 "encoding":{"x":{"datum":0.85,"type":"quantitative","scale":{"domain":[1.0,331.1],"nice":false,"zero":false},"axis":null},"x2":{"datum":351.0},"y":{"datum":4230.6,"type":"quantitative","scale":{"domain":[3934.8,4230.35],"nice":false,"zero":false},"axis":null},"y2":{"datum":3921.4}}},
{"data":{"values":[{}]},"mark":{"type":"text","align":"left","baseline":"middle","fontSize":21,"fontWeight":"bold","font":"DejaVu Sans","color":"#131722","clip":false},
 "encoding":{"x":{"datum":1.6,"type":"quantitative","scale":{"domain":[1.0,331.1],"nice":false,"zero":false},"axis":null},"y":{"datum":3905.0,"type":"quantitative","scale":{"domain":[3934.8,4230.35],"nice":false,"zero":false},"axis":null},"text":{"value":"17"}}},
{"data":{"values":[{}]},"mark":{"type":"text","align":"left","baseline":"middle","fontSize":21,"fontWeight":"bold","font":"Roboto","color":"#131722","clip":false},
 "encoding":{"x":{"datum":11.6,"type":"quantitative","scale":{"domain":[1.0,331.1],"nice":false,"zero":false},"axis":null},"y":{"datum":3905.0,"type":"quantitative","scale":{"domain":[3934.8,4230.35],"nice":false,"zero":false},"axis":null},"text":{"value":"TradingView"}}}
]
}
